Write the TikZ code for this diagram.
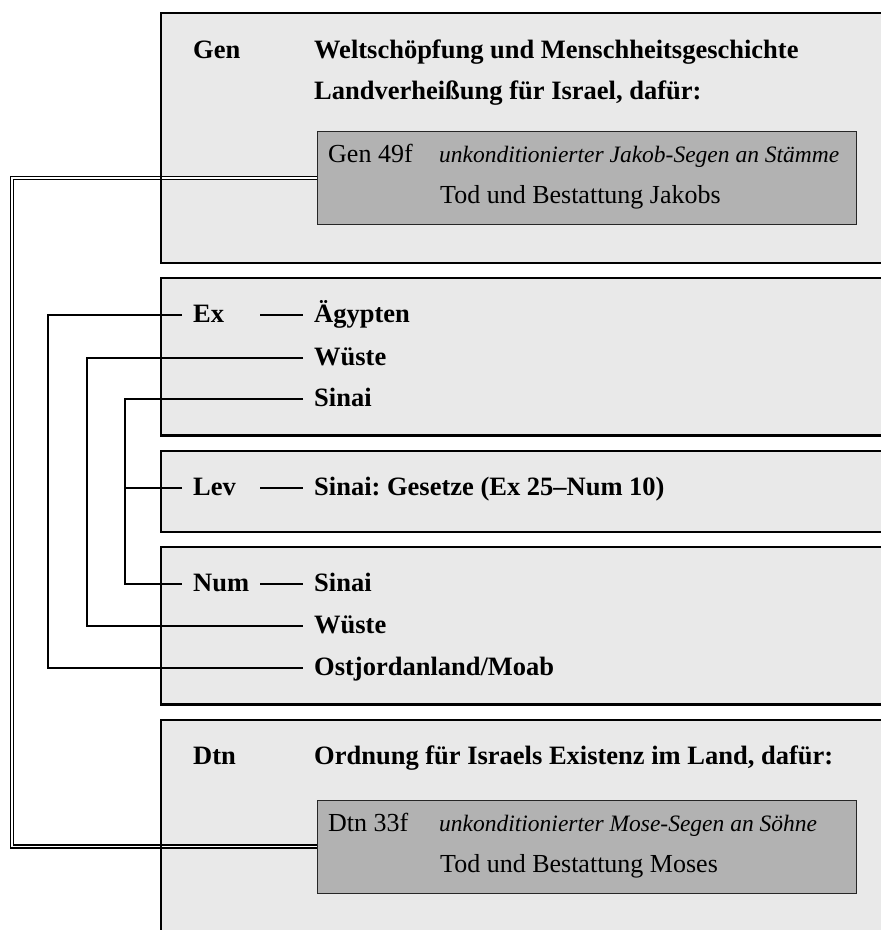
\documentclass[tikz,border=0pt]{standalone}
\usepackage{fontspec}
\setmainfont{Liberation Serif}
\frenchspacing
\definecolor{panel}{RGB}{233,233,233}
\definecolor{quote}{RGB}{178,178,178}
\begin{document}
\begin{tikzpicture}[x=1pt,y=-1pt,
  panelfill/.style={fill=panel, draw=none, inner sep=0pt, anchor=north west, minimum width=760pt},
  frame/.style={draw=black, line width=2.2pt, line join=miter},
  quotebox/.style={fill=quote, draw=black!85, line width=1pt, inner sep=0pt, anchor=north west, minimum width=539pt, minimum height=93pt},
  txt/.style={anchor=west, inner xsep=0pt, inner ysep=0pt, text height=21.7pt, text depth=5.8pt},
  book/.style={txt, inner xsep=11pt, font=\fontsize{26.5}{30}\selectfont\bfseries},
  topic/.style={book},
  ref/.style={txt, font=\fontsize{26}{30}\selectfont},
  gloss/.style={txt, font=\fontsize{23.5}{28}\selectfont\itshape},
  conn/.style={draw=black, line width=2pt},
  link/.style={draw=black, line width=1.3pt, double=white, double distance=1.8pt, line join=miter},
]
\useasboundingbox (0,0) rectangle (881,930);
\clip (0,0) rectangle (881,930);

% panels for the five books (open to the right)
\node[panelfill, minimum height=249.5pt] (genp) at (161,13) {};
\node[panelfill, minimum height=157pt]   (exp)  at (161,278) {};
\node[panelfill, minimum height=80.3pt]  (levp) at (161,451) {};
\node[panelfill, minimum height=157pt]   (nump) at (161,547) {};
\node[panelfill, minimum height=240pt]   (dtnp) at (161,720) {};

% blessing boxes
\node[quotebox] (gq) at (317,131) {};
\node[quotebox] (dq) at (317,799.5) {};

% rail positions
\coordinate (outer) at (12,0);
\coordinate (railA) at (48,0);
\coordinate (railB) at (87,0);
\coordinate (railC) at (125,0);
\coordinate (dashx) at (260,0);

% Genesis
\node[book]  (gen)    at (182,51)  {Gen};
\node[topic] (welt)   at (303,51)  {Weltschöpfung und Menschheitsgeschichte};
\node[topic] (land)   at (303,92)  {Landverheißung für Israel, dafür:};
\node[ref]   (g49)    at (328,155) {Gen 49f};
\node[gloss] (jsegen) at (439,155) {unkonditionierter Jakob-Segen an Stämme};
\node[ref]   (jtod)   at (440,196) {Tod und Bestattung Jakobs};

% Exodus
\node[book]  (ex)  at (182,315)   {Ex};
\node[topic] (aeg) at (303,315)   {Ägypten};
\node[topic] (wu1) at (303,357.5) {Wüste};
\node[topic] (si1) at (303,399)   {Sinai};

% Leviticus
\node[book]  (lev)     at (182,488) {Lev};
\node[topic] (gesetze) at (303,488) {Sinai: Gesetze (Ex 25--Num 10)};

% Numbers
\node[book]  (num)  at (182,584) {Num};
\node[topic] (si2)  at (303,584) {Sinai};
\node[topic] (wu2)  at (303,626) {Wüste};
\node[topic] (moab) at (303,668) {Ostjordanland/Moab};

% Deuteronomy
\node[book]  (dtn)     at (182,757) {Dtn};
\node[topic] (ordnung) at (303,757) {Ordnung für Israels Existenz im Land, dafür:};
\node[ref]   (d33)     at (328,824) {Dtn 33f};
\node[gloss] (msegen)  at (439,824) {unkonditionierter Mose-Segen an Söhne};
\node[ref]   (mtod)    at (440,865) {Tod und Bestattung Moses};

% double link between the two blessings
\draw[link] (gq.west) -- (gq.west -| outer) |- (dq.west);

% brackets between the stations
\draw[conn] (ex.west)  -- (ex.west -| railA)  |- (moab.west);
\draw[conn] (wu1.west) -- (wu1.west -| railB) |- (wu2.west);
\draw[conn] (si1.west) -- (si1.west -| railC) |- (num.west);
\draw[conn] (lev.west) -- (lev.west -| railC);

% short dashes from book to first station
\draw[conn] (ex.west -| dashx)  -- (aeg.west);
\draw[conn] (lev.west -| dashx) -- (gesetze.west);
\draw[conn] (num.west -| dashx) -- (si2.west);

% panel frames
\draw[frame] (genp.north east) -- (genp.north west) -- (genp.south west) -- (genp.south east);
\draw[frame] (exp.north east)  -- (exp.north west)  -- (exp.south west)  -- (exp.south east);
\draw[frame] (levp.north east) -- (levp.north west) -- (levp.south west) -- (levp.south east);
\draw[frame] (nump.north east) -- (nump.north west) -- (nump.south west) -- (nump.south east);
\draw[frame] (dtnp.north east) -- (dtnp.north west) -- (dtnp.south west);
\end{tikzpicture}
\end{document}
